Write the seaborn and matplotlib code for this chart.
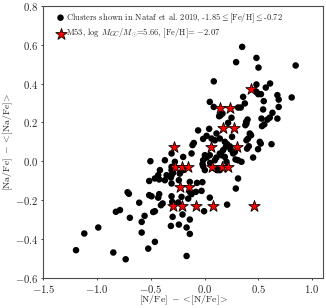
import numpy as np
import pandas as pd
import matplotlib
matplotlib.use("Agg")
import matplotlib.pyplot as plt
import seaborn as sns

# Nataf et al. 2019 clusters
nataf_x = [0.350, 0.483, 0.294, 0.502, 0.848, 0.086, 0.483, 0.610, 0.570, 0.483,
           0.500, 0.525, 0.678, 0.690, 0.811, 0.359, 0.375, 0.551, 0.312, 0.337,
           0.545, 0.690, 0.632, 0.251, 0.400, 0.387, 0.530, 0.607, 0.585, 0.678,
           0.219, 0.049, 0.086, 0.167, 0.149, 0.136, 0.556, 0.535,
           0.390, 0.380, 0.421, 0.433, 0.256, 0.514, 0.523, 0.623, 0.412, 0.396,
           0.189, 0.210, 0.282, 0.235, 0.244, 0.498, 0.189, 0.288, 0.344, 0.452,
           -0.060, 0.043, 0.019, -0.013, 0.111, 0.142, 0.096, 0.198, -0.112, -0.100,
           -0.199, -0.276, -0.369, -0.504, -0.121, 0.003, 0.019, -0.013, 0.049, 0.096,
           0.111, 0.142, 0.158, 0.204, -0.307, 0.173, 0.266, 0.312, 0.390, 0.405,
           0.065,
           -0.019, -0.013, 0.117, 0.003, -0.307, -0.307, -0.292, -0.415, -0.199, -0.431,
           -0.353, -0.307, -0.313, -0.230, 0.052, 0.095, 0.142,
           -0.515, -0.462, -0.422, -0.307, -0.137, -0.020, -0.081, -0.028, -0.137, -0.121,
           -0.515, -0.493, -0.431, -0.422, -0.307, -0.214, 0.049, 0.312, 0.291, -0.716,
           -0.704, -0.608, -0.070, -0.369, -0.239,
           -0.301, -0.245, -0.152, 0.210, -0.004, -0.478, -0.462, -0.406, -0.390, -0.558,
           -0.297, -0.205, -0.239, -0.313, -0.137, -0.167, -0.137, -0.585, -0.585, -0.462,
           -0.524, -0.167, -1.196, -1.119, -0.989, -0.849, -0.734, -0.825, -0.787, -0.695]
nataf_y = [0.590, 0.533, 0.511, 0.483, 0.494, 0.412, 0.396, 0.401, 0.380, 0.358,
           0.346, 0.346, 0.341, 0.318, 0.329, 0.332, 0.298, 0.310, 0.277, 0.277,
           0.267, 0.280, 0.250, 0.224, 0.215, 0.203, 0.220, 0.225, 0.215, 0.220,
           0.198, 0.306, 0.280, 0.246, 0.237, 0.232, 0.190, 0.181,
           0.194, 0.186, 0.143, 0.134, 0.126, 0.100, 0.091, 0.088, 0.077, 0.065,
           0.100, 0.088, 0.048, 0.077, 0.060, 0.062, 0.022, 0.009, -0.003, 0.019,
           0.159, 0.167, 0.131, 0.115, 0.143, 0.117, 0.108, 0.074, 0.083, 0.094,
           0.022, -0.003, 0.005, 0.000, 0.040, 0.031, 0.019, 0.005, 0.031, 0.005,
           0.019, 0.040, 0.031, -0.003, 0.040, 0.057, 0.040, 0.005, 0.108, 0.117,
           0.117,
           -0.015, -0.026, -0.046, -0.046, -0.029, -0.046, -0.060, -0.046, -0.046, -0.072,
           -0.072, -0.072, -0.084, -0.064, -0.009, -0.038, -0.046,
           -0.102, -0.089, -0.094, -0.115, -0.107, -0.108, -0.158, -0.153, -0.158, -0.170,
           -0.175, -0.181, -0.188, -0.170, -0.181, -0.184, -0.188, -0.089, -0.141, -0.160,
           -0.168, -0.214, -0.112, -0.098, -0.098,
           -0.210, -0.213, -0.193, -0.224, -0.258, -0.262, -0.258, -0.227, -0.218, -0.282,
           -0.287, -0.275, -0.327, -0.334, -0.301, -0.342, -0.375, -0.313, -0.368, -0.416,
           -0.451, -0.489, -0.459, -0.373, -0.342, -0.471, -0.506, -0.261, -0.252, -0.292]

# M53 stars
m53_x = [0.433, 0.142, 0.233, 0.173, 0.275, -0.280, 0.058, 0.299, -0.276, -0.214,
         -0.155, 0.066, 0.161, 0.214, -0.229, -0.141, -0.292, -0.208, -0.084, 0.080, 0.458]
m53_y = [0.372, 0.272, 0.272, 0.173, 0.173, 0.072, 0.072, 0.072, -0.029, -0.029,
         -0.029, -0.029, -0.029, -0.029, -0.131, -0.131, -0.231, -0.231, -0.231, -0.231, -0.231]

label_nataf = r"Clusters shown in Nataf et al. 2019, -1.85$\leq$[Fe/H]$\leq$-0.72"
label_m53 = r"M53, log $M_{GC}/M_{\odot}$=5.66, [Fe/H]= $-2.07$"

sns.set_style("ticks")
plt.rcParams.update({
    "font.family": "serif",
    "font.serif": ["cmr10"],
    "mathtext.fontset": "cm",
    "axes.formatter.use_mathtext": True,
    "axes.unicode_minus": True,
})

df_n = pd.DataFrame({"x": nataf_x, "y": nataf_y})
df_m = pd.DataFrame({"x": m53_x, "y": m53_y})

fig = plt.figure(figsize=(3.26, 3.08), dpi=100)
ax = fig.add_axes([0.133, 0.099, 0.857, 0.881])

sns.scatterplot(data=df_n, x="x", y="y", ax=ax, color="black", s=22,
                edgecolor="none", marker="o", label=label_nataf, zorder=2)
sns.scatterplot(data=df_m, x="x", y="y", ax=ax, color="red", s=75,
                edgecolor="black", linewidth=0.6, marker="*", label=label_m53, zorder=3)

ax.set_xlim(-1.5, 1.1)
ax.set_ylim(-0.6, 0.8)
ax.set_xticks([-1.5, -1.0, -0.5, 0.0, 0.5, 1.0])
ax.set_yticks([-0.6, -0.4, -0.2, 0.0, 0.2, 0.4, 0.6, 0.8])
ax.tick_params(labelsize=7.7, length=1.6, width=0.6, pad=2.0)
for sp in ax.spines.values():
    sp.set_linewidth(0.8)
    sp.set_color("0.3")
ax.set_xlabel(r"$\mathrm{[N/Fe]}\ -<\!\mathrm{[N/Fe]}\!>$", fontsize=7.0)
ax.set_ylabel(r"$\mathrm{[Na/Fe]}\ -<\!\mathrm{[Na/Fe]}\!>$", fontsize=7.0)
ax.xaxis.set_label_coords(0.5, -0.058)
ax.yaxis.set_label_coords(-0.10, 0.5)

leg = ax.legend(loc="upper left", bbox_to_anchor=(0.025, 1.0), frameon=False,
                fontsize=6.1, handletextpad=0.1, borderaxespad=0.3,
                labelspacing=0.3, handlelength=1.2, borderpad=0.3)

fig.savefig("out.png", dpi=100)
